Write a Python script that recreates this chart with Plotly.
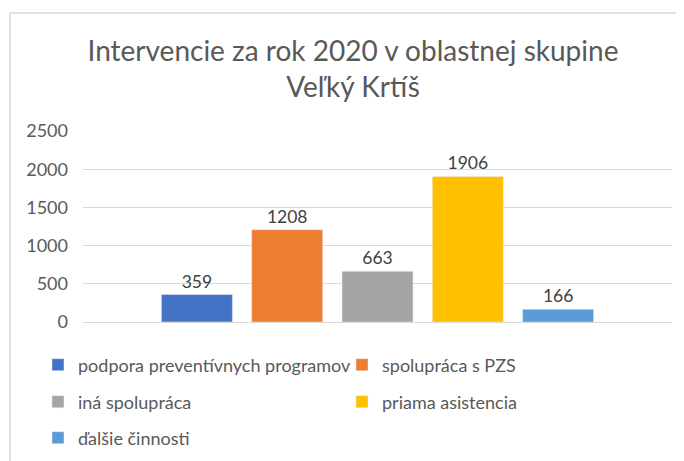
import plotly.graph_objects as go

title_lines = ["Intervencie za rok 2020 v oblastnej skupine", "Veľký Krtíš"]
group_label = ["2020"]
series_names = [
    "podpora preventívnych programov",
    "spolupráca s PZS",
    "iná spolupráca",
    "priama asistencia",
    "ďalšie činnosti",
]
series_values = [359, 1208, 663, 1906, 166]
series_colors = ["#4472C4", "#ED7D31", "#A5A5A5", "#FFC000", "#5B9BD5"]
legend_rows = ["legend", "legend", "legend2", "legend2", "legend3"]
y_ticks = [0, 500, 1000, 1500, 2000, 2500]

FONT = "Lato"
TXT = "#595959"

fig = go.Figure()
for name, val, col, lg in zip(series_names, series_values, series_colors, legend_rows):
    fig.add_trace(go.Bar(
        x=group_label, y=[val], name=name, marker_color=col,
        text=[val], textposition="outside",
        textfont=dict(family=FONT, size=17.5, color="#404040"),
        cliponaxis=False, legend=lg,
    ))

# page is shown with an 8px body margin -> design in figure coords
W, H = 684, 461
L, T = 75, 123
pw, ph = 589, 191
R, B = W - L - pw, H - T - ph

def px_to_paper_x(px):
    return (px - L) / pw

def px_to_paper_y(py):
    return (T + ph - py) / ph

leg_common = dict(orientation="h", entrywidth=259, entrywidthmode="pixels",
                  font=dict(family=FONT, size=18, color=TXT),
                  bgcolor="rgba(0,0,0,0)", xanchor="left", yanchor="middle",
                  x=px_to_paper_x(30))

fig.update_layout(
    width=W, height=H,
    margin=dict(l=L, r=R, t=T, b=B, autoexpand=False),
    paper_bgcolor="white", plot_bgcolor="white",
    barmode="group", bargap=0.2334, bargroupgap=0.214,
    title=dict(text="<br>".join(title_lines), xref="container", yref="container",
               x=345 / W, xanchor="center", y=1 - 53 / H, yanchor="middle",
               font=dict(family=FONT, size=28, color=TXT)),
    legend=dict(**leg_common, y=px_to_paper_y(357)),
    legend2=dict(**leg_common, y=px_to_paper_y(394)),
    legend3=dict(**leg_common, y=px_to_paper_y(430)),
    xaxis=dict(showticklabels=False, showgrid=False, showline=True,
               linecolor="#D9D9D9", linewidth=1, ticks="", fixedrange=True,
               automargin=False),
    yaxis=dict(range=[0, 2500], tickvals=y_ticks, showgrid=True,
               gridcolor="#D9D9D9", gridwidth=1, zeroline=True,
               zerolinecolor="#D9D9D9", zerolinewidth=1, showline=False,
               ticks="", ticklabelstandoff=14, automargin=False,
               tickfont=dict(family=FONT, size=18, color=TXT)),
    shapes=[dict(type="rect", xref="paper", yref="paper",
                 x0=px_to_paper_x(2), x1=px_to_paper_x(700),
                 y0=px_to_paper_y(480), y1=px_to_paper_y(5),
                 line=dict(color="#D9D9D9", width=1.5), fillcolor="rgba(0,0,0,0)",
                 layer="below")],
)

fig.write_html("out.html")
